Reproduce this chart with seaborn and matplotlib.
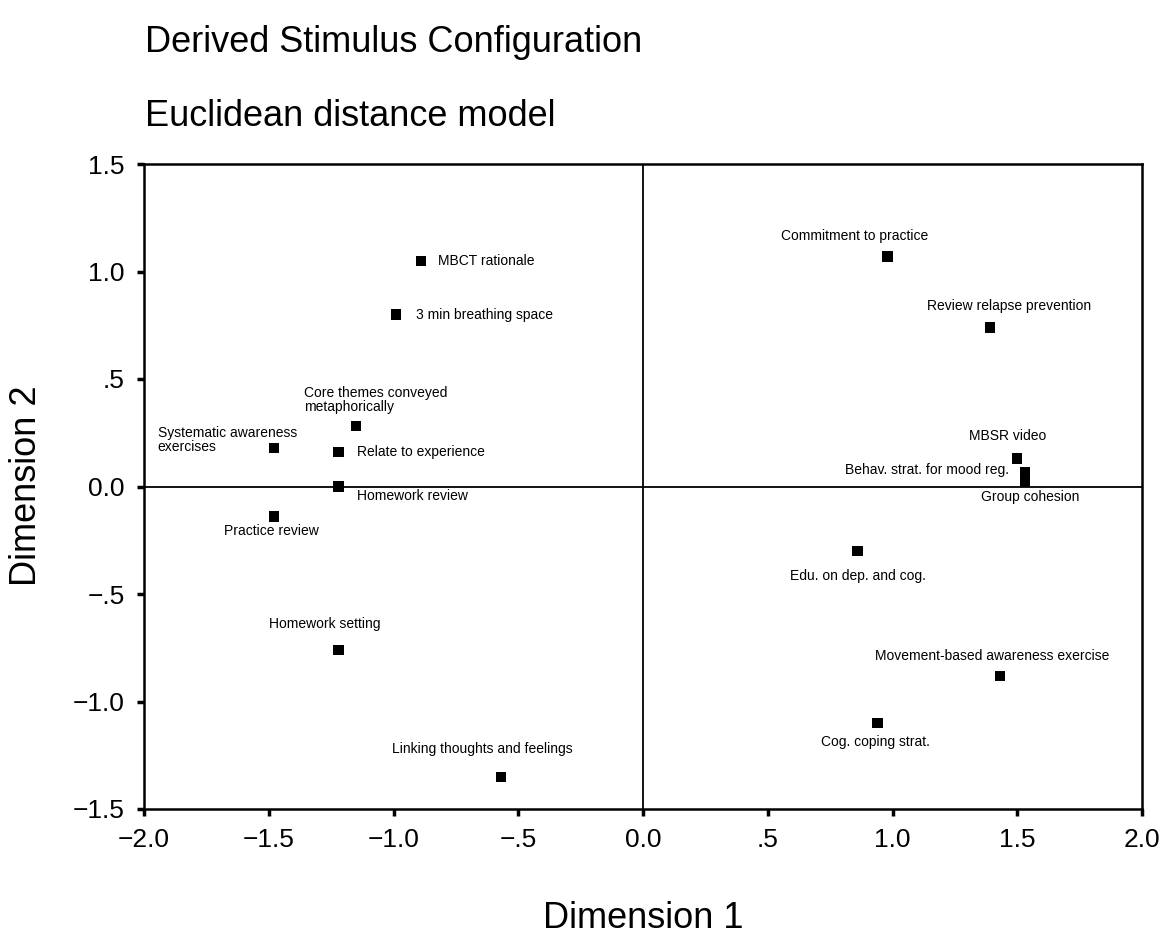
import matplotlib
matplotlib.use('Agg')
import matplotlib.pyplot as plt
import seaborn as sns
import pandas as pd

# stimulus coordinates
labels = ['MBCT rationale', '3 min breathing space',
          'Core themes conveyed\nmetaphorically', 'Systematic awareness\nexercises',
          'Relate to experience', 'Homework review', 'Practice review',
          'Homework setting', 'Linking thoughts and feelings',
          'Commitment to practice', 'Review relapse prevention', 'MBSR video',
          'Behav. strat. for mood reg.', 'Group cohesion', 'Edu. on dep. and cog.',
          'Movement-based awareness exercise', 'Cog. coping strat.']
dim1 = [-0.89, -0.99, -1.15, -1.48, -1.22, -1.22, -1.48, -1.22, -0.57,
        0.98, 1.39, 1.50, 1.53, 1.53, 0.86, 1.43, 0.94]
dim2 = [1.05, 0.80, 0.28, 0.18, 0.16, 0.00, -0.14, -0.76, -1.35,
        1.07, 0.74, 0.13, 0.065, 0.02, -0.30, -0.88, -1.10]

xticks = [-2.0, -1.5, -1.0, -0.5, 0.0, 0.5, 1.0, 1.5, 2.0]
xtick_labels = ['\u22122.0', '\u22121.5', '\u22121.0', '\u2212.5', '0.0', '.5', '1.0', '1.5', '2.0']
yticks = [-1.5, -1.0, -0.5, 0.0, 0.5, 1.0, 1.5]
ytick_labels = ['\u22121.5', '\u22121.0', '\u2212.5', '0.0', '.5', '1.0', '1.5']

df = pd.DataFrame({'dim1': dim1, 'dim2': dim2, 'label': labels})

# label placement: (dx, dy) in pixels, ha, va
place = {
    'MBCT rationale': (17, 0, 'left', 'center'),
    '3 min breathing space': (20, 0, 'left', 'center'),
    'Core themes conveyed\nmetaphorically': (-52, 12, 'left', 'bottom'),
    'Systematic awareness\nexercises': (-116, 8, 'left', 'center'),
    'Relate to experience': (18, 0, 'left', 'center'),
    'Homework review': (18, -9, 'left', 'center'),
    'Practice review': (-2, -14, 'center', 'center'),
    'Homework setting': (-14, 26, 'center', 'center'),
    'Linking thoughts and feelings': (-18, 28, 'center', 'center'),
    'Commitment to practice': (-33, 20, 'center', 'center'),
    'Review relapse prevention': (19, 21, 'center', 'center'),
    'MBSR video': (-10, 23, 'center', 'center'),
    'Behav. strat. for mood reg.': (-16, 3, 'right', 'center'),
    'Group cohesion': (5, -15, 'center', 'center'),
    'Edu. on dep. and cog.': (0, -25, 'center', 'center'),
    'Movement-based awareness exercise': (-8, 20, 'center', 'center'),
    'Cog. coping strat.': (-2, -19, 'center', 'center'),
}

sns.set_style('white')
plt.rcParams['font.family'] = ['Liberation Sans', 'DejaVu Sans']
plt.rcParams['text.color'] = 'black'
plt.rcParams['xtick.color'] = 'black'
plt.rcParams['ytick.color'] = 'black'

fig = plt.figure(figsize=(11.62, 9.43), dpi=100)
ax = fig.add_axes([144/1162, 1 - 809/943, 998/1162, 645/943])

ax.axhline(0, color='black', lw=1.3, zorder=1)
ax.axvline(0, color='black', lw=1.3, zorder=1)

sns.scatterplot(data=df, x='dim1', y='dim2', marker='s', s=55, color='black',
                edgecolor='none', ax=ax, zorder=3, legend=False)

for _, r in df.iterrows():
    dx, dy, ha, va = place[r['label']]
    ax.annotate(r['label'], (r['dim1'], r['dim2']), xytext=(dx, dy),
                textcoords='offset pixels', ha=ha, va=va, fontsize=10,
                linespacing=1.05, color='black')

ax.set_xlim(-2.0, 2.0)
ax.set_ylim(-1.5, 1.5)
ax.set_xticks(xticks)
ax.set_xticklabels(xtick_labels)
ax.set_yticks(yticks)
ax.set_yticklabels(ytick_labels)
ax.tick_params(axis='both', direction='out', length=5, width=2.5,
               labelsize=19, pad=9, colors='black', bottom=True, left=True)
for sp in ax.spines.values():
    sp.set_visible(True)
    sp.set_color('black')
    sp.set_linewidth(1.8)

ax.set_xlabel('')
ax.set_ylabel('')
fig.text(643/1162, 1 - 918/943, 'Dimension 1', fontsize=26, ha='center', va='center')
fig.text(27/1162, 1 - 486/943, 'Dimension 2', fontsize=26, ha='center', va='center',
         rotation=90)

fig.text(145/1162, 1 - 42/943, 'Derived Stimulus Configuration', fontsize=26,
         ha='left', va='center')
fig.text(145/1162, 1 - 116/943, 'Euclidean distance model', fontsize=26,
         ha='left', va='center')

fig.savefig('out.png', dpi=100)
